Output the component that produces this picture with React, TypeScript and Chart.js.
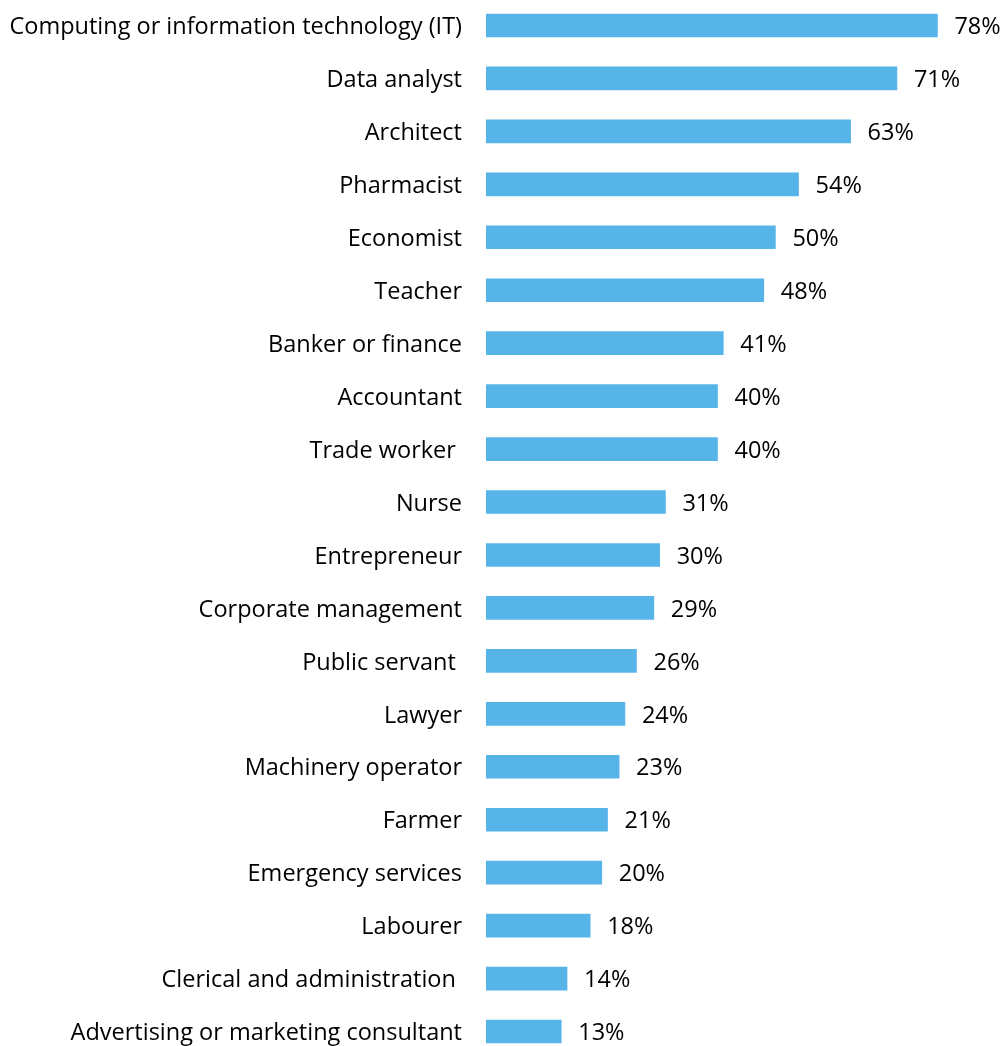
import React, { useEffect, useRef } from "react";
import { Chart, registerables } from "chart.js";

Chart.register(...registerables);

const categories = [
  "Computing or information technology (IT)",
  "Data analyst",
  "Architect",
  "Pharmacist",
  "Economist",
  "Teacher",
  "Banker or finance",
  "Accountant",
  "Trade worker ",
  "Nurse",
  "Entrepreneur",
  "Corporate management",
  "Public servant ",
  "Lawyer",
  "Machinery operator",
  "Farmer",
  "Emergency services",
  "Labourer",
  "Clerical and administration ",
  "Advertising or marketing consultant",
];

const values = [78, 71, 63, 54, 50, 48, 41, 40, 40, 31, 30, 29, 26, 24, 23, 21, 20, 18, 14, 13];

const valueLabels = values.map((v) => `${v}%`);

const FONT_FAMILY = "'Open Sans', Lato, sans-serif";
const FONT_SIZE = 23.5;

const labelPlugin = {
  id: "barValueLabels",
  afterDatasetsDraw(chart: any) {
    const ctx = chart.ctx;
    const meta = chart.getDatasetMeta(0);
    ctx.save();
    ctx.font = `${FONT_SIZE}px ${FONT_FAMILY}`;
    ctx.fillStyle = "#000000";
    ctx.textAlign = "left";
    ctx.textBaseline = "middle";
    meta.data.forEach((bar: any, i: number) => {
      ctx.fillText(valueLabels[i], bar.x + 17, bar.y + 2);
    });
    ctx.restore();
  },
};

export default function App() {
  const canvasRef = useRef<HTMLCanvasElement | null>(null);

  useEffect(() => {
    if (!canvasRef.current) return;
    const chart = new Chart(canvasRef.current, {
      type: "bar",
      data: {
        labels: categories,
        datasets: [
          {
            data: values,
            backgroundColor: "#57B4E9",
            borderWidth: 0,
            barThickness: 23,
          },
        ],
      },
      options: {
        indexAxis: "y",
        animation: false,
        responsive: false,
        maintainAspectRatio: false,
        events: [],
        layout: { padding: { left: 0, right: 55, top: 0, bottom: 0 } },
        plugins: {
          legend: { display: false },
          tooltip: { enabled: false },
        },
        scales: {
          x: {
            display: false,
            min: 0,
            max: 80,
          },
          y: {
            grid: { display: false, drawTicks: false, tickLength: 0 },
            border: { display: false },
            ticks: {
              color: "#000000",
              font: { family: FONT_FAMILY, size: FONT_SIZE },
              padding: 24,
              labelOffset: 2,
              autoSkip: false,
            },
            afterFit(scale: any) {
              scale.width = 486;
              scale.paddingTop = 0;
              scale.paddingBottom = 0;
            },
          },
        },
      },
      plugins: [labelPlugin],
    });
    return () => chart.destroy();
  }, []);

  return (
    <div
      style={{
        position: "absolute",
        left: 0,
        top: 0,
        width: 1004,
        height: 1046,
        overflow: "hidden",
        background: "#ffffff",
      }}
    >
      <canvas
        ref={canvasRef}
        width={1004}
        height={1059}
        style={{ position: "absolute", left: 0, top: -1, width: 1004, height: 1059 }}
      />
    </div>
  );
}
